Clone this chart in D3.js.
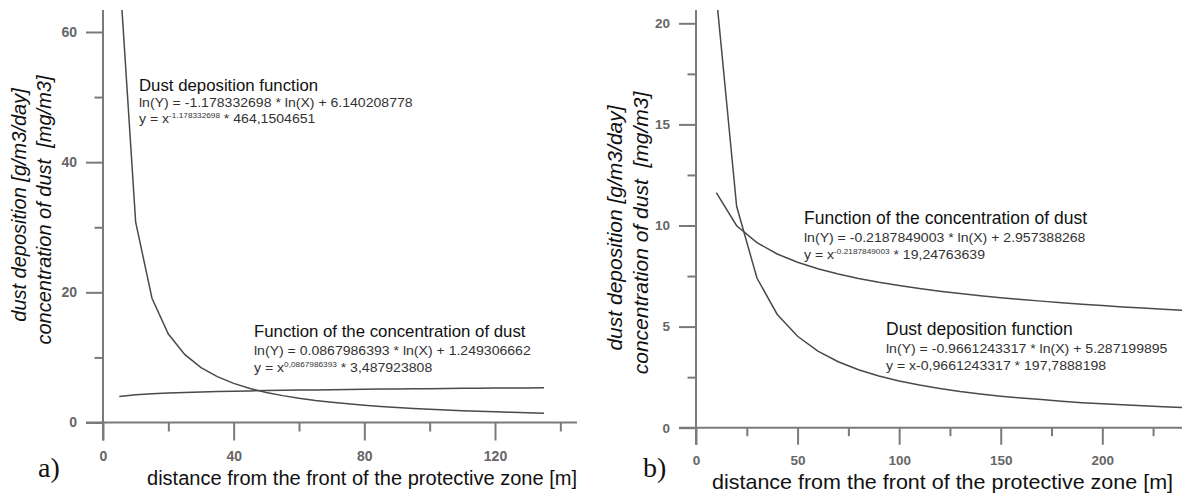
<!DOCTYPE html>
<html>
<head>
<meta charset="utf-8">
<script src="https://cdn.jsdelivr.net/npm/d3@7"></script>
<style>
  html, body { margin: 0; padding: 0; background: #fff; }
  svg { display: block; }
</style>
</head>
<body>
<svg id="chart" width="1188" height="493"></svg>
<script>
// ---- Panel a) : distance 5..135 m, step 5 ----
const distanceA = [5, 10, 15, 20, 25, 30, 35, 40, 45, 50, 55, 60, 65, 70, 75, 80, 85, 90, 95, 100, 105, 110, 115, 120, 125, 130, 135];
const depositionA = [69.67, 30.78, 19.09, 13.60, 10.46, 8.43, 7.04, 6.01, 5.23, 4.62, 4.13, 3.73, 3.39, 3.11, 2.87, 2.66, 2.47, 2.31, 2.17, 2.04, 1.93, 1.82, 1.73, 1.65, 1.57, 1.50, 1.43];
const concentrationA = [4.01, 4.26, 4.41, 4.52, 4.61, 4.69, 4.75, 4.80, 4.85, 4.90, 4.94, 4.98, 5.01, 5.04, 5.07, 5.10, 5.13, 5.16, 5.18, 5.20, 5.22, 5.25, 5.27, 5.29, 5.30, 5.32, 5.34];
const xTicksA = [0, 40, 80, 120];
const xMinorA = [20, 60, 100, 140];
const yTicksA = [0, 20, 40, 60];
const yMinorA = [10, 30, 50];

// ---- Panel b) : distance 10..240 m, step 10 ----
const distanceB = [10, 20, 30, 40, 50, 60, 70, 80, 90, 100, 110, 120, 130, 140, 150, 160, 170, 180, 190, 200, 210, 220, 230, 240];
const depositionB = [21.38, 10.95, 7.40, 5.60, 4.52, 3.79, 3.26, 2.87, 2.56, 2.31, 2.11, 1.94, 1.79, 1.67, 1.56, 1.47, 1.39, 1.31, 1.24, 1.18, 1.13, 1.08, 1.03, 0.99];
const concentrationB = [11.63, 9.99, 9.15, 8.59, 8.18, 7.86, 7.60, 7.38, 7.19, 7.03, 6.88, 6.75, 6.64, 6.53, 6.43, 6.34, 6.26, 6.18, 6.11, 6.04, 5.97, 5.92, 5.86, 5.80];
const xTicksB = [0, 50, 100, 150, 200];
const xMinorB = [25, 75, 125, 175, 225];
const yTicksB = [0, 5, 10, 15, 20];
const yMinorB = [2.5, 7.5, 12.5, 17.5];

const xTitle = "distance from the front of the protective zone [m]";
const yTitle1 = "dust deposition [g/m3/day]";
const yTitle2 = "concentration of dust  [mg/m3]";

const SANS = "'Liberation Sans', Arial, sans-serif";
const SERIF = "'Liberation Serif', 'Times New Roman', serif";
const AXIS = "#7a7a7a";
const CURVE = "#4a4a4a";

const svg = d3.select("#chart");
svg.append("rect").attr("width", 1188).attr("height", 493).attr("fill", "#fff");
const defs = svg.append("defs");

function drawPanel(p) {
  const g = svg.append("g").style("font-family", SANS);
  const x = d3.scaleLinear().domain(p.xDomain).range(p.xRange);
  const y = d3.scaleLinear().domain(p.yDomain).range(p.yRange);
  const x0 = x(0), y0 = y(0);

  // clip region for the curves
  const clipId = "clip-" + p.id;
  defs.append("clipPath").attr("id", clipId)
    .append("rect")
    .attr("x", x0).attr("y", p.top)
    .attr("width", p.xEnd - x0).attr("height", y0 - p.top);

  // axis lines
  g.append("line").attr("x1", x0).attr("x2", x0).attr("y1", p.top).attr("y2", y0 + p.xTickLen)
    .attr("stroke", AXIS).attr("stroke-width", 2);
  g.append("line").attr("x1", x0 - p.yTickLen).attr("x2", p.xEnd).attr("y1", y0).attr("y2", y0)
    .attr("stroke", AXIS).attr("stroke-width", 2);

  // y axis: major + minor ticks
  const ya = g.append("g").attr("transform", `translate(${x0},0)`)
    .call(d3.axisLeft(y).tickValues(p.yTicks).tickSize(p.yTickLen).tickPadding(p.yPad));
  const ym = g.append("g").attr("transform", `translate(${x0},0)`)
    .call(d3.axisLeft(y).tickValues(p.yMinor).tickSize(p.yTickLen / 2).tickFormat(""));

  // x axis: major + minor ticks
  const xa = g.append("g").attr("transform", `translate(0,${y0})`)
    .call(d3.axisBottom(x).tickValues(p.xTicks).tickSize(p.xTickLen).tickPadding(p.xPad));
  const xm = g.append("g").attr("transform", `translate(0,${y0})`)
    .call(d3.axisBottom(x).tickValues(p.xMinor).tickSize(p.xTickLen / 2).tickFormat(""));

  [ya, ym, xa, xm].forEach(a => {
    a.select(".domain").remove();
    a.selectAll(".tick line").attr("stroke", AXIS).attr("stroke-width", 2);
    a.selectAll(".tick text")
      .attr("fill", "#666")
      .style("font-family", SANS)
      .attr("font-size", p.tickFont)
      .attr("font-weight", "bold");
  });

  // curves
  const line = d3.line().x(d => x(d[0])).y(d => y(d[1]));
  const curves = g.append("g").attr("clip-path", `url(#${clipId})`);
  curves.append("path").datum(d3.zip(p.dist, p.deposition)).attr("d", line)
    .attr("fill", "none").attr("stroke", CURVE).attr("stroke-width", 1.5);
  curves.append("path").datum(d3.zip(p.dist, p.concentration)).attr("d", line)
    .attr("fill", "none").attr("stroke", CURVE).attr("stroke-width", 1.5);

  // axis titles
  g.append("text").attr("x", p.xTitleX).attr("y", p.xTitleY)
    .attr("font-size", p.xTitleFont).attr("fill", "#111")
    .attr("textLength", p.xTitleLen).attr("lengthAdjust", "spacingAndGlyphs")
    .text(xTitle);
  g.append("text")
    .attr("transform", `translate(${p.yT1[0]},${p.yT1[1]}) rotate(-90)`)
    .attr("text-anchor", "middle").attr("font-style", "italic")
    .attr("font-size", p.yTitleFont).attr("fill", "#111").text(yTitle1);
  g.append("text")
    .attr("transform", `translate(${p.yT2[0]},${p.yT2[1]}) rotate(-90)`)
    .attr("text-anchor", "middle").attr("font-style", "italic")
    .style("white-space", "pre")
    .attr("font-size", p.yTitleFont).attr("fill", "#111").text(yTitle2);

  // panel letter
  g.append("text").attr("x", p.letterPos[0]).attr("y", p.letterPos[1])
    .style("font-family", SERIF)
    .attr("font-size", 28).attr("fill", "#111").text(p.letter);

  // function annotations (equation lines are slightly widened)
  p.notes.forEach(n => {
    const d2 = n.gap ? n.gap[0] : 18, d3g = n.gap ? n.gap[1] : 35;
    g.append("text").attr("x", n.x).attr("y", n.y)
      .attr("font-size", p.noteFont).attr("fill", "#111").text(n.title);
    g.append("text").attr("transform", `translate(${n.x},${n.y + d2}) scale(1.1,1)`)
      .attr("font-size", 12.8).attr("fill", "#333").text(n.log);
    const t = g.append("text").attr("transform", `translate(${n.x},${n.y + d3g}) scale(1.1,1)`)
      .attr("font-size", 12.8).attr("fill", "#333");
    if (n.sup) {
      t.append("tspan").text("y = x");
      t.append("tspan").attr("font-size", 7.5).attr("dy", -5).text(n.sup);
      t.append("tspan").attr("dy", 5).style("white-space", "pre").text(" * " + n.coef);
    } else {
      t.text(n.power);
    }
  });
}

drawPanel({
  id: "a",
  dist: distanceA, deposition: depositionA, concentration: concentrationA,
  xDomain: [0, 120], xRange: [103, 495],
  yDomain: [0, 60], yRange: [422.5, 32],
  top: 10, xEnd: 577,
  xTicks: xTicksA, xMinor: xMinorA, yTicks: yTicksA, yMinor: yMinorA,
  yTickLen: 17, xTickLen: 18, yPad: 9, xPad: 11, tickFont: 14,
  xTitleX: 147, xTitleY: 485, xTitleFont: 20, xTitleLen: 430,
  yT1: [26, 205], yT2: [50.5, 210], yTitleFont: 20,
  letter: "a)", letterPos: [38, 477],
  noteFont: 16.8,
  notes: [
    { x: 139, y: 91, gap: [16, 32], title: "Dust deposition function",
      log: "ln(Y) = -1.178332698 * ln(X) + 6.140208778",
      sup: "-1.178332698", coef: "464,1504651" },
    { x: 254, y: 337, title: "Function of the concentration of dust",
      log: "ln(Y) = 0.0867986393 * ln(X) + 1.249306662",
      sup: "0,0867986393", coef: "3,487923808" }
  ]
});

drawPanel({
  id: "b",
  dist: distanceB, deposition: depositionB, concentration: concentrationB,
  xDomain: [0, 200], xRange: [696, 1102.3],
  yDomain: [0, 20], yRange: [427.7, 23.3],
  top: 10, xEnd: 1182,
  xTicks: xTicksB, xMinor: xMinorB, yTicks: yTicksB, yMinor: yMinorB,
  yTickLen: 17, xTickLen: 17, yPad: 9, xPad: 11, tickFont: 13.5,
  xTitleX: 712, xTitleY: 489, xTitleFont: 21, xTitleLen: 461,
  yT1: [622, 228], yT2: [648, 233], yTitleFont: 21,
  letter: "b)", letterPos: [643, 477],
  noteFont: 17.5,
  notes: [
    { x: 804, y: 224, title: "Function of the concentration of dust",
      log: "ln(Y) = -0.2187849003 * ln(X) + 2.957388268",
      sup: "-0.2187849003", coef: "19,24763639" },
    { x: 886, y: 335, title: "Dust deposition function",
      log: "ln(Y) = -0.9661243317 * ln(X) + 5.287199895",
      power: "y = x-0,9661243317 * 197,7888198" }
  ]
});
</script>
</body>
</html>
